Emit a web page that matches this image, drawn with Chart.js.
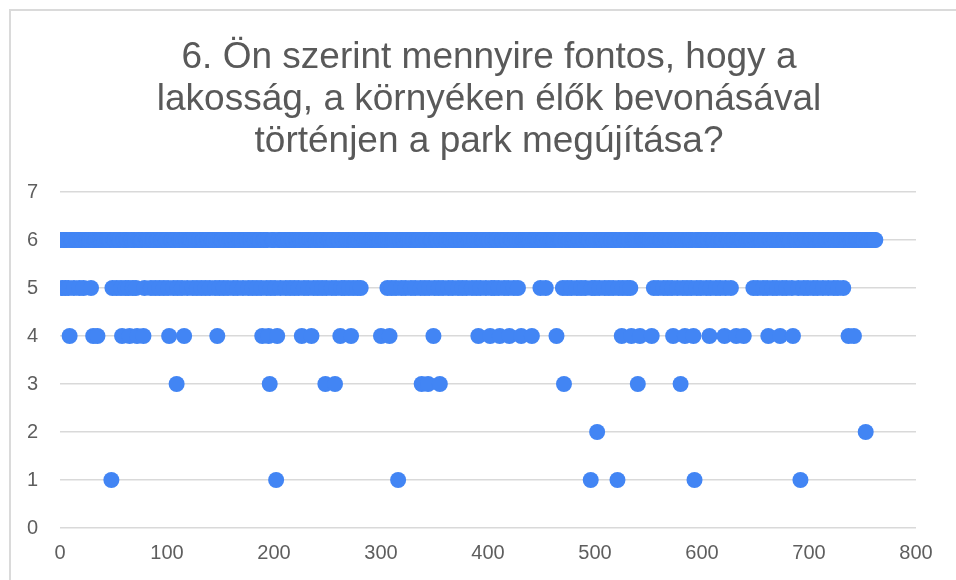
<!DOCTYPE html>
<html><head><meta charset="utf-8">
<script src="https://cdn.jsdelivr.net/npm/chart.js@4.4.1/dist/chart.umd.min.js"></script>
<style>
html,body{margin:0;padding:0;background:#fff;}
#wrap{position:relative;width:956px;height:580px;overflow:hidden;background:#fff;}
#frame{position:absolute;left:9px;top:9px;width:980px;height:620px;border-top:2px solid #dadada;border-left:2px solid #dadada;}
canvas{position:absolute;left:0;top:0;}
</style></head><body>
<div id="wrap"><div id="frame"></div><canvas id="c" width="956" height="580"></canvas></div>
<script>
// ---- data ----
const titleLines = [
  "6. Ön szerint mennyire fontos, hogy a",
  "lakosság, a környéken élők bevonásával",
  "történjen a park megújítása?"
];
const xTickValues = [0, 100, 200, 300, 400, 500, 600, 700, 800];
const yTickValues = [0, 1, 2, 3, 4, 5, 6, 7];
const respondentCount = 762;   // respondents numbered 1..762
// respondent numbers (x) that gave each answer
const answer1 = [48, 202, 316, 496, 521, 593, 692];
const answer2 = [502, 753];
const answer3 = [109, 196, 248, 257, 338, 344, 355, 471, 540, 580];
const answer4 = [9, 31, 35, 58, 65, 72, 78, 102, 116, 147, 189, 195, 203, 226, 235, 262, 272,
  300, 308, 349, 391, 402, 411, 420, 431, 441, 464, 525, 534, 542, 553, 573, 584, 592, 607,
  621, 632, 639, 662, 673, 685, 737, 742];
const answer5 = [2, 5, 8, 13, 18, 22, 29,
  49, 53, 57, 61, 64, 68, 71, 79, 85, 89, 93, 97, 101, 106, 110, 114, 119, 124, 128, 132, 136,
  140, 145, 149, 153, 157, 162, 166, 171, 176, 180, 184, 188, 193, 197, 201, 206, 211, 215, 219,
  223, 228, 232, 237, 241, 245, 249, 254, 258, 263, 266, 270, 274, 278, 281,
  306, 310, 314, 319, 323, 328, 332, 337, 341, 345, 350, 354, 358, 363, 367, 372, 376, 380, 385,
  389, 393, 398, 403, 406, 410, 415, 419, 424, 428,
  449, 454,
  470, 474, 478, 483, 487, 491, 497, 500, 504, 509, 513, 517, 522, 526, 530, 533,
  555, 559, 564, 568, 572, 577, 582, 586, 590, 595, 599, 604, 608, 613, 617, 622, 627,
  648, 652, 657, 661, 666, 670, 675, 679, 684, 690, 695, 699, 704, 708, 713, 718, 723, 727, 732];
// every other respondent answered 6
const others = new Set([...answer1, ...answer2, ...answer3, ...answer4, ...answer5]);
const answer6 = [];
for (let r = 1; r <= respondentCount; r++) if (!others.has(r)) answer6.push(r);

const rows = [[6, answer6], [5, answer5], [4, answer4], [3, answer3], [2, answer2], [1, answer1]];
const points = [];
rows.forEach(([v, xs]) => xs.forEach(x => points.push({x: x, y: v})));

const FONT = "'Liberation Sans', Arial, sans-serif";
const titlePlugin = {
  id: 'titleText',
  afterDraw(chart) {
    const ctx = chart.ctx;
    ctx.save();
    ctx.fillStyle = '#595959';
    ctx.font = "37px " + FONT;
    ctx.textAlign = 'center';
    ctx.textBaseline = 'middle';
    titleLines.forEach((t, i) => ctx.fillText(t, 489, 58 + i * 42));
    ctx.restore();
  }
};

new Chart(document.getElementById('c'), {
  type: 'scatter',
  data: { datasets: [{
    data: points,
    backgroundColor: '#4285f4',
    borderColor: '#4285f4',
    borderWidth: 0,
    pointRadius: 8,
    pointHoverRadius: 8
  }]},
  options: {
    responsive: false,
    animation: false,
    devicePixelRatio: 1,
    layout: { padding: { top: 192, right: 40, left: 0, bottom: 0 } },
    plugins: { legend: { display: false }, tooltip: { enabled: false }, title: { display: false } },
    scales: {
      x: {
        type: 'linear', min: 0, max: 800,
        afterBuildTicks: s => { s.ticks = xTickValues.map(v => ({value: v})); },
        afterFit: s => { s.height = 52; },
        grid: { display: false, drawTicks: false },
        border: { display: false },
        ticks: { color: '#5e5e5e', font: { family: FONT, size: 20 }, padding: 13, maxRotation: 0 }
      },
      y: {
        min: 0, max: 7,
        afterBuildTicks: s => { s.ticks = yTickValues.map(v => ({value: v})); },
        afterFit: s => { s.width = 60; },
        grid: { color: '#d9d9d9', lineWidth: 1.5, drawTicks: false },
        border: { display: false },
        ticks: { color: '#5e5e5e', font: { family: FONT, size: 20 }, padding: 22 }
      }
    }
  },
  plugins: [titlePlugin]
});
</script>
</body></html>
